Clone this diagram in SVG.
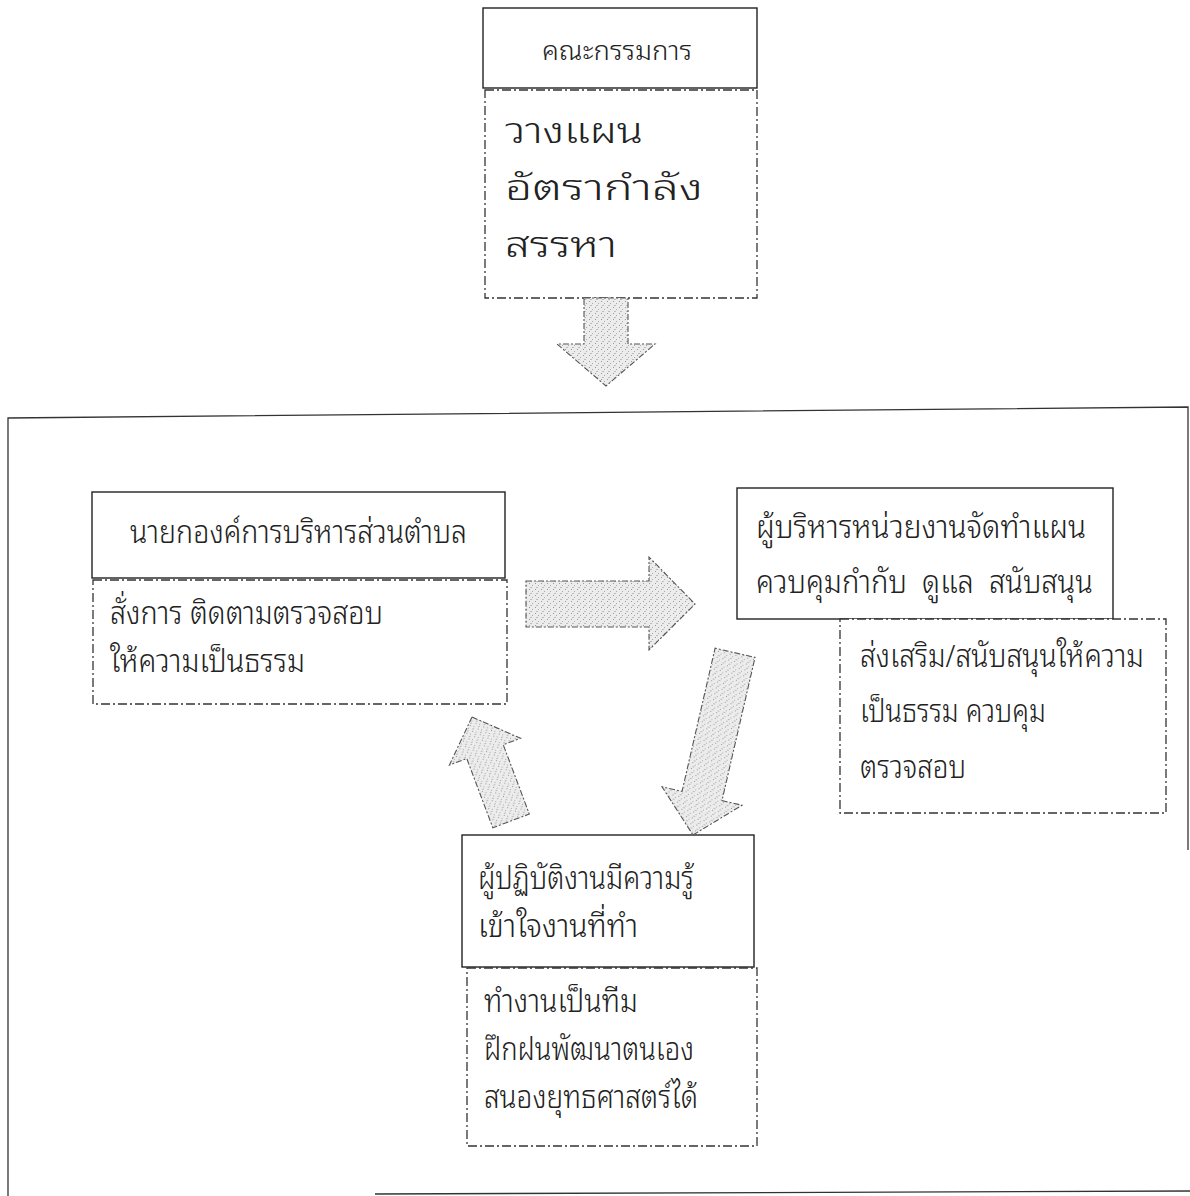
<svg xmlns="http://www.w3.org/2000/svg" width="1190" height="1196" viewBox="0 0 1190 1196">
<style>
  .solid { fill: #ffffff; stroke: #222; stroke-width: 1.4; }
  .dash { fill: #ffffff; stroke: #333; stroke-width: 1.3; stroke-dasharray: 9 3 2 3; }
  .frame { fill: none; stroke: #333; stroke-width: 1.3; }
  .arrow { stroke: #555; stroke-width: 1.1; stroke-dasharray: 6 2 2 2; fill: url(#speck); }
  .t { font-family: "Noto Sans Thai Looped", "Noto Serif Thai", "Noto Sans Thai", "Noto Sans", "DejaVu Sans", sans-serif; fill: #222; font-weight: 300; white-space: pre; }
  .big { font-size: 36px; }
  .mid { font-size: 32px; }
  .small { font-size: 26px; }
</style>
<defs>
  <pattern id="speck" width="6" height="6" patternUnits="userSpaceOnUse">
    <rect width="6" height="6" fill="#ececec"/>
    <rect x="1" y="1" width="1" height="1" fill="#999"/>
    <rect x="4" y="3" width="1" height="1" fill="#aaa"/>
    <rect x="2" y="5" width="2" height="1" fill="#bbb"/>
  </pattern>
</defs>

<g id="frame">
  <path class="frame" d="M8,1196 V418 L1188,407 V850"/>
  <path class="frame" d="M375,1194 L1190,1191"/>
</g>

<g id="committee">
  <rect class="solid" x="483" y="8" width="274" height="80"/>
  <text class="t small" x="542" y="60" textLength="150" lengthAdjust="spacingAndGlyphs">คณะกรรมการ</text>
  <rect class="dash" x="485" y="90" width="272" height="208"/>
  <text class="t big" x="505" y="143" textLength="138" lengthAdjust="spacingAndGlyphs">วางแผน</text>
  <text class="t big" x="505" y="200" textLength="198" lengthAdjust="spacingAndGlyphs">อัตรากำลัง</text>
  <text class="t big" x="505" y="257" textLength="112" lengthAdjust="spacingAndGlyphs">สรรหา</text>
</g>

<g id="mayor">
  <rect class="solid" x="92" y="492" width="413" height="86"/>
  <text class="t mid" x="130" y="543" textLength="337" lengthAdjust="spacingAndGlyphs">นายกองค์การบริหารส่วนตำบล</text>
  <rect class="dash" x="93" y="580" width="414" height="124"/>
  <text class="t mid" x="110" y="624" textLength="273" lengthAdjust="spacingAndGlyphs">สั่งการ ติดตามตรวจสอบ</text>
  <text class="t mid" x="110" y="672" textLength="195" lengthAdjust="spacingAndGlyphs">ให้ความเป็นธรรม</text>
</g>

<g id="manager">
  <rect class="solid" x="737" y="488" width="376" height="131"/>
  <text class="t mid" x="756" y="538" textLength="330" lengthAdjust="spacingAndGlyphs">ผู้บริหารหน่วยงานจัดทำแผน</text>
  <text class="t mid" x="756" y="593" textLength="337" lengthAdjust="spacingAndGlyphs" xml:space="preserve">ควบคุมกำกับ  ดูแล  สนับสนุน</text>
  <rect class="dash" x="840" y="619" width="326" height="194"/>
  <text class="t mid" x="860" y="667" textLength="284" lengthAdjust="spacingAndGlyphs">ส่งเสริม/สนับสนุนให้ความ</text>
  <text class="t mid" x="860" y="722" textLength="186" lengthAdjust="spacingAndGlyphs">เป็นธรรม ควบคุม</text>
  <text class="t mid" x="860" y="778" textLength="106" lengthAdjust="spacingAndGlyphs">ตรวจสอบ</text>
</g>

<g id="staff">
  <rect class="solid" x="462" y="835" width="292" height="132"/>
  <text class="t mid" x="478" y="889" textLength="216" lengthAdjust="spacingAndGlyphs">ผู้ปฏิบัติงานมีความรู้</text>
  <text class="t mid" x="478" y="937" textLength="160" lengthAdjust="spacingAndGlyphs">เข้าใจงานที่ทำ</text>
  <rect class="dash" x="467" y="968" width="290" height="178"/>
  <text class="t mid" x="484" y="1012" textLength="154" lengthAdjust="spacingAndGlyphs">ทำงานเป็นทีม</text>
  <text class="t mid" x="484" y="1060" textLength="210" lengthAdjust="spacingAndGlyphs">ฝึกฝนพัฒนาตนเอง</text>
  <text class="t mid" x="484" y="1108" textLength="214" lengthAdjust="spacingAndGlyphs">สนองยุทธศาสตร์ได้</text>
</g>

<g id="connectors">
  <polygon class="arrow" points="584,298 628,298 628,344 655,344 606,386 557,344 584,344"/>
  <polygon class="arrow" points="526,581 649,581 649,557 695,604 649,650 649,627 526,627"/>
  <polygon class="arrow" transform="translate(693,835) rotate(13)" points="0,0 41,-40 20.5,-40 20.5,-187 -20.5,-187 -20.5,-40 -41,-40"/>
  <polygon class="arrow" transform="translate(472,717) rotate(-20.6)" points="0,0 38,37 19.5,37 19.5,111 -19.5,111 -19.5,37 -38,37"/>
</g>
</svg>
